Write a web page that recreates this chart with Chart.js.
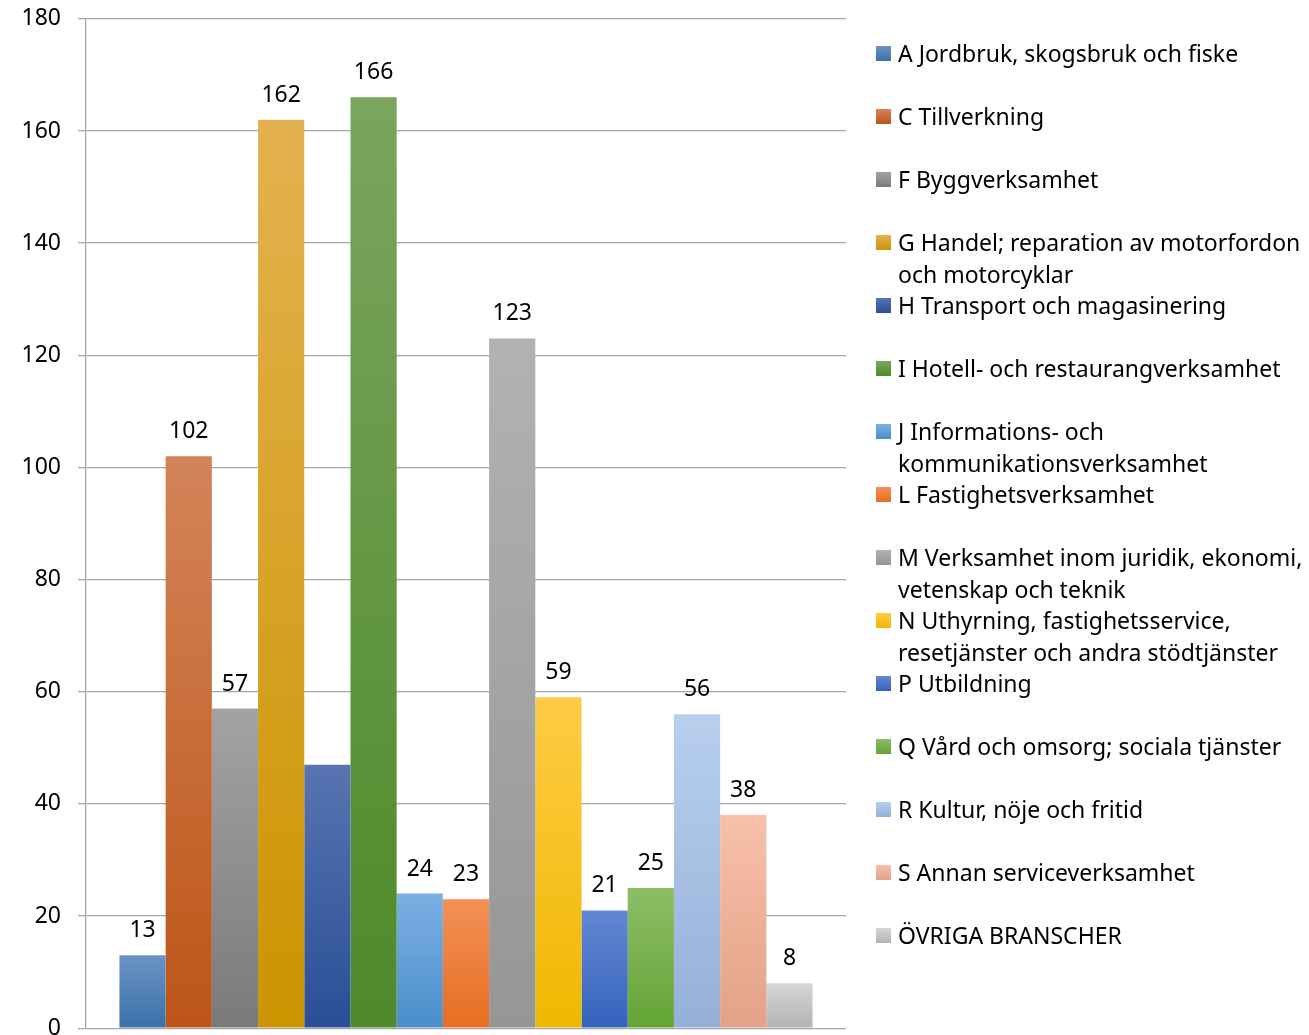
<!DOCTYPE html>
<html lang="sv">
<head>
<meta charset="utf-8">
<title>Branscher</title>
<script src="https://cdn.jsdelivr.net/npm/chart.js@4/dist/chart.umd.min.js"></script>
<style>
  html, body { margin: 0; padding: 0; background: #fff; overflow: hidden; }
  #page { position: relative; width: 1309px; height: 1035px; overflow: hidden; }
  #box { position: absolute; left: 0; top: -12px; width: 1309px; height: 1071px; }
  #legend { position: absolute; left: 0; top: 0; font-family: "Noto Sans", sans-serif; font-size: 23px; color: #000; }
  .item { position: absolute; left: 876px; line-height: 32px; white-space: nowrap; }
  .swatch { position: absolute; left: 0; top: 9px; width: 15px; height: 15px; }
  .text { margin-left: 22px; }
</style>
</head>
<body>
<div id="page">
  <div id="box"><canvas id="chart"></canvas></div>
  <div id="legend"></div>
</div>
<script>
"use strict";

const CATEGORIES = [
  "A Jordbruk, skogsbruk och fiske",
  "C Tillverkning",
  "F Byggverksamhet",
  "G Handel; reparation av motorfordon och motorcyklar",
  "H Transport och magasinering",
  "I Hotell- och restaurangverksamhet",
  "J Informations- och kommunikationsverksamhet",
  "L Fastighetsverksamhet",
  "M Verksamhet inom juridik, ekonomi, vetenskap och teknik",
  "N Uthyrning, fastighetsservice, resetjänster och andra stödtjänster",
  "P Utbildning",
  "Q Vård och omsorg; sociala tjänster",
  "R Kultur, nöje och fritid",
  "S Annan serviceverksamhet",
  "ÖVRIGA BRANSCHER",
];
const VALUES = [13, 102, 57, 162, 47, 166, 24, 23, 123, 59, 21, 25, 56, 38, 8];
// H har ingen etikett i originalet
const HIDE_LABEL = ["H Transport och magasinering"];
// radbrytningar i förklaringen
const LEGEND_LINES = [
  ["A Jordbruk, skogsbruk och fiske"],
  ["C Tillverkning"],
  ["F Byggverksamhet"],
  ["G Handel; reparation av motorfordon", "och motorcyklar"],
  ["H Transport och magasinering"],
  ["I Hotell- och restaurangverksamhet"],
  ["J Informations- och", "kommunikationsverksamhet"],
  ["L Fastighetsverksamhet"],
  ["M Verksamhet inom juridik, ekonomi,", "vetenskap och teknik"],
  ["N Uthyrning, fastighetsservice,", "resetjänster och andra stödtjänster"],
  ["P Utbildning"],
  ["Q Vård och omsorg; sociala tjänster"],
  ["R Kultur, nöje och fritid"],
  ["S Annan serviceverksamhet"],
  ["ÖVRIGA BRANSCHER"],
];
const Y_TICKS = [0, 20, 40, 60, 80, 100, 120, 140, 160, 180];

// gradient: ljus topp, mörk botten
const COLOR_TOP = [
  "#6b92c4", "#d3845a", "#a3a3a3", "#e3b24f", "#5874b1",
  "#7aa55e", "#7cb0e2", "#f39058", "#b2b2b2", "#ffcb45",
  "#6387d2", "#8cbe66", "#b8cfee", "#f8c0aa", "#d6d6d6",
];
const COLOR_BOTTOM = [
  "#3a72a8", "#bd5517", "#7a7a7a", "#cc9400", "#2a4e97",
  "#4e8a2a", "#4a8ecc", "#e76e20", "#969696", "#efb800",
  "#3463bd", "#64a436", "#95b0d8", "#e2a287", "#b3b3b3",
];

const FONT = "'Noto Sans', sans-serif";

function barGradient(i) {
  return (ctx) => {
    const chart = ctx.chart;
    const y = chart.scales.y;
    if (!chart.chartArea || !y) return COLOR_BOTTOM[i];
    const top = y.getPixelForValue(VALUES[i]);
    const base = y.getPixelForValue(0);
    const g = chart.ctx.createLinearGradient(0, top, 0, base);
    g.addColorStop(0, COLOR_TOP[i]);
    g.addColorStop(1, COLOR_BOTTOM[i]);
    return g;
  };
}

const valueLabels = {
  id: "valueLabels",
  afterDatasetsDraw(chart) {
    const c = chart.ctx;
    c.save();
    c.font = "23px " + FONT;
    c.fillStyle = "#000";
    c.textAlign = "center";
    c.textBaseline = "alphabetic";
    chart.data.datasets.forEach((ds, i) => {
      if (HIDE_LABEL.includes(ds.label)) return;
      const bar = chart.getDatasetMeta(i).data[0];
      c.fillText(String(ds.data[0]), bar.x, bar.y - 18);
    });
    c.restore();
  },
};

const datasets = CATEGORIES.map((name, i) => ({
  label: name,
  data: [VALUES[i]],
  backgroundColor: barGradient(i),
  borderWidth: 0,
}));

new Chart(document.getElementById("chart"), {
  type: "bar",
  data: { labels: [""], datasets },
  plugins: [valueLabels],
  options: {
    responsive: true,
    maintainAspectRatio: false,
    animation: false,
    layout: { padding: { top: 0, right: 463, bottom: 0, left: 0 } },
    datasets: { bar: { categoryPercentage: 0.912, barPercentage: 1 } },
    plugins: { legend: { display: false }, tooltip: { enabled: false } },
    scales: {
      x: { display: false },
      y: {
        min: 0,
        max: 180,
        afterBuildTicks: (scale) => { scale.ticks = Y_TICKS.map((v) => ({ value: v })); },
        afterFit: (scale) => { scale.width = 86; },
        grid: { color: "#a6a6a6", lineWidth: 1.3, tickLength: 8 },
        border: { color: "#a6a6a6", width: 1.3 },
        ticks: { color: "#000", padding: 17, font: { family: FONT, size: 23 } },
      },
    },
  },
});

// förklaring till höger
const legendEl = document.getElementById("legend");
LEGEND_LINES.forEach((lines, i) => {
  const item = document.createElement("div");
  item.className = "item";
  item.style.top = (53 + 63 * i - 16) + "px";
  item.innerHTML =
    `<span class="swatch" style="background:linear-gradient(${COLOR_TOP[i]},${COLOR_BOTTOM[i]})"></span>` +
    `<div class="text">${lines.join("<br>")}</div>`;
  legendEl.appendChild(item);
});
</script>
</body>
</html>
